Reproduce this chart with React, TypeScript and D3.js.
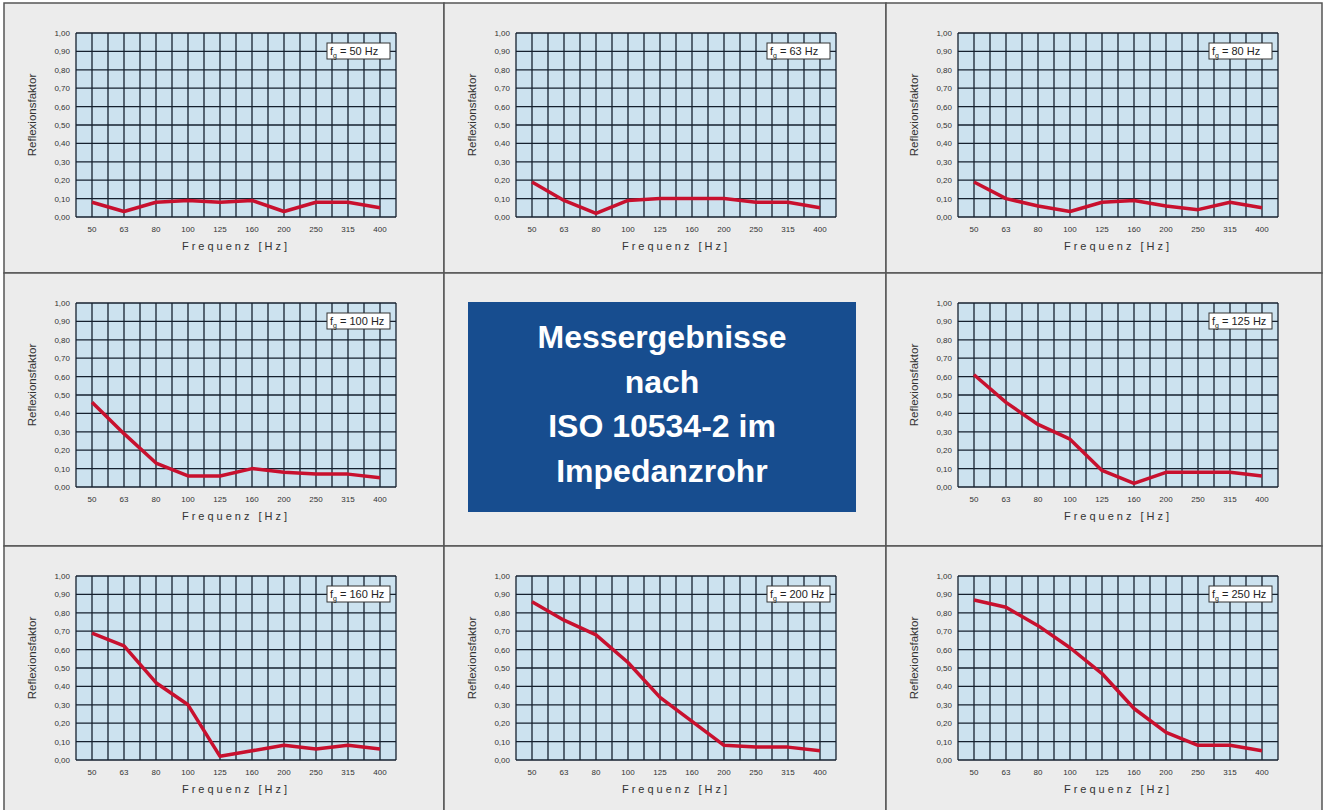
import React, { useEffect, useRef } from 'react';
import * as d3 from 'd3';

const freqs = ['50', '63', '80', '100', '125', '160', '200', '250', '315', '400'];
const yTicks = [0, 0.1, 0.2, 0.3, 0.4, 0.5, 0.6, 0.7, 0.8, 0.9, 1.0];

const fg50 = [0.08, 0.03, 0.08, 0.09, 0.08, 0.09, 0.03, 0.08, 0.08, 0.05];
const fg63 = [0.19, 0.09, 0.02, 0.09, 0.10, 0.10, 0.10, 0.08, 0.08, 0.05];
const fg80 = [0.19, 0.10, 0.06, 0.03, 0.08, 0.09, 0.06, 0.04, 0.08, 0.05];
const fg100 = [0.46, 0.29, 0.13, 0.06, 0.06, 0.10, 0.08, 0.07, 0.07, 0.05];
const fg125 = [0.61, 0.46, 0.34, 0.26, 0.09, 0.02, 0.08, 0.08, 0.08, 0.06];
const fg160 = [0.69, 0.62, 0.42, 0.30, 0.02, 0.05, 0.08, 0.06, 0.08, 0.06];
const fg200 = [0.86, 0.76, 0.68, 0.53, 0.34, 0.21, 0.08, 0.07, 0.07, 0.05];
const fg250 = [0.87, 0.83, 0.73, 0.61, 0.47, 0.28, 0.15, 0.08, 0.08, 0.05];

// grid cell: [row, col, label, values]; centre cell (1,1) holds the title box
const panels: [number, number, string, number[]][] = [
    [0, 0, '50', fg50],
    [0, 1, '63', fg63],
    [0, 2, '80', fg80],
    [1, 0, '100', fg100],
    [1, 2, '125', fg125],
    [2, 0, '160', fg160],
    [2, 1, '200', fg200],
    [2, 2, '250', fg250],
];

const titleLines = ['Messergebnisse', 'nach', 'ISO 10534-2 im', 'Impedanzrohr'];

const colX = [4, 444, 886, 1322];
const rowY = [3, 273, 546, 812];

const App: React.FC = () => {
    const ref = useRef<SVGSVGElement | null>(null);

    useEffect(() => {
        const svg = d3.select(ref.current);
        svg.selectAll('*').remove();
        const font = 'Liberation Sans, Arial, sans-serif';

        // panel backgrounds and frame
        for (let r = 0; r < 3; r++) {
            for (let c = 0; c < 3; c++) {
                svg.append('rect')
                    .attr('x', colX[c]).attr('y', rowY[r])
                    .attr('width', colX[c + 1] - colX[c]).attr('height', rowY[r + 1] - rowY[r])
                    .attr('fill', '#ececec')
                    .attr('stroke', '#555').attr('stroke-width', 1.5);
            }
        }

        const W = 320, H = 184;
        const x = d3.scalePoint<string>().domain(freqs).range([0, W]).padding(0.5);
        const y = d3.scaleLinear().domain([0, 1]).range([H, 0]);
        const gx = d3.scaleLinear().domain([0, 20]).range([0, W]);
        const fmt = (v: number) => v.toFixed(2).replace('.', ',');

        panels.forEach(([r, c, label, vals]) => {
            const left = colX[c] + 72;
            const top = rowY[r] + 30;
            const g = svg.append('g').attr('transform', `translate(${left},${top})`);

            g.append('rect').attr('width', W).attr('height', H).attr('fill', '#cce2ef');

            g.selectAll('line.v').data(d3.range(21)).enter().append('line')
                .attr('x1', d => gx(d)).attr('x2', d => gx(d))
                .attr('y1', 0).attr('y2', H)
                .attr('stroke', '#16212f').attr('stroke-width', 1.3);
            g.selectAll('line.h').data(yTicks).enter().append('line')
                .attr('x1', 0).attr('x2', W)
                .attr('y1', d => y(d)).attr('y2', d => y(d))
                .attr('stroke', '#16212f').attr('stroke-width', 1.3);

            g.selectAll('text.yt').data(yTicks).enter().append('text')
                .attr('x', -6).attr('y', d => y(d) + 3)
                .attr('text-anchor', 'end')
                .style('font-family', font).style('font-size', '8px').style('fill', '#333')
                .text(d => fmt(d));

            g.selectAll('text.xt').data(freqs).enter().append('text')
                .attr('x', d => x(d) as number).attr('y', H + 15)
                .attr('text-anchor', 'middle')
                .style('font-family', font).style('font-size', '8px').style('fill', '#333')
                .text(d => d);

            g.append('text')
                .attr('transform', `translate(-40,${H / 2 - 10}) rotate(-90)`)
                .attr('text-anchor', 'middle')
                .style('font-family', font).style('font-size', '11.5px').style('fill', '#333')
                .text('Reflexionsfaktor');

            g.append('text')
                .attr('x', W / 2).attr('y', H + 33)
                .attr('text-anchor', 'middle')
                .style('font-family', font).style('font-size', '11px').style('fill', '#333')
                .style('letter-spacing', '3px')
                .text('Frequenz [Hz]');

            const line = d3.line<number>()
                .x((_d, i) => x(freqs[i]) as number)
                .y(d => y(d));
            g.append('path')
                .attr('d', line(vals) || '')
                .attr('fill', 'none')
                .attr('stroke', '#c8102e')
                .attr('stroke-width', 3.5)
                .attr('stroke-linejoin', 'round');

            // legend box
            const lg = g.append('g').attr('transform', `translate(${W - 69},10)`);
            lg.append('rect').attr('width', 63).attr('height', 16)
                .attr('fill', '#fff').attr('stroke', '#333').attr('stroke-width', 1);
            const t = lg.append('text').attr('x', 3).attr('y', 12)
                .style('font-family', font).style('font-size', '11px').style('fill', '#222');
            t.append('tspan').text('f');
            t.append('tspan').attr('dy', 3).style('font-size', '7px').text('g');
            t.append('tspan').attr('dy', -3).text(` = ${label} Hz`);
        });

        // centre title box
        svg.append('rect')
            .attr('x', 468).attr('y', 302).attr('width', 388).attr('height', 210)
            .attr('fill', '#174d8f');
        svg.selectAll('text.title').data(titleLines).enter().append('text')
            .attr('x', 662).attr('y', (_d, i) => 348 + i * 44.5)
            .attr('text-anchor', 'middle')
            .style('font-family', font).style('font-size', '32px').style('font-weight', 'bold')
            .style('fill', '#fff')
            .text(d => d);
    }, []);

    return (
        <div style={{ position: 'absolute', left: 0, top: 0 }}>
            <svg ref={ref} width={1326} height={810} style={{ display: 'block', background: '#fff' }}></svg>
        </div>
    );
};

export default App;
